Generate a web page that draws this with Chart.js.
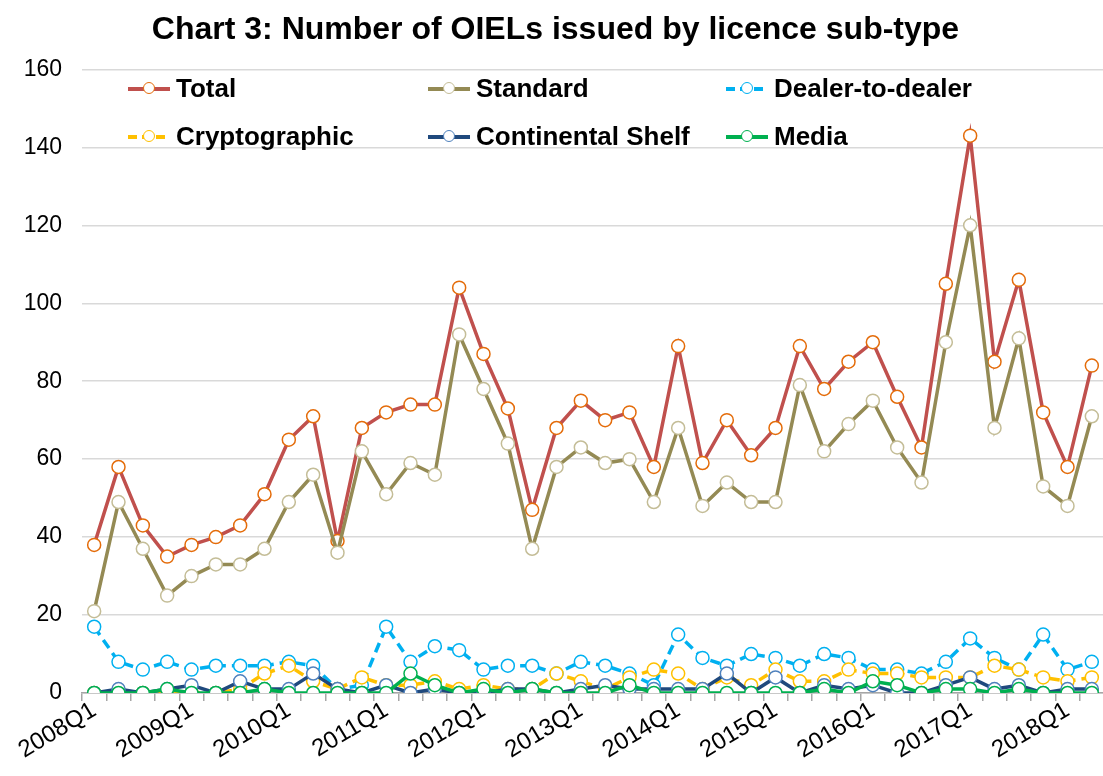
<!DOCTYPE html>
<html>
<head>
<meta charset="utf-8">
<script src="https://cdn.jsdelivr.net/npm/chart.js@4.4.0/dist/chart.umd.min.js"></script>
<style>
body { margin: 0; overflow: hidden; background: #fff; font-family: "Liberation Sans", Arial, sans-serif; }
#wrap { position: relative; width: 1112px; height: 776px; }
.leg { position: absolute; display: flex; align-items: center; font-weight: bold; font-size: 26px; color: #000; white-space: nowrap; }
.leg .sample { position: relative; width: 42px; height: 14px; margin-right: 6px; }
.leg .ln { position: absolute; left: 0; right: 0; top: 5.5px; height: 3.5px; }
.leg .dot { position: absolute; left: 15px; top: 0px; width: 10px; height: 10px; border: 1.5px solid; border-radius: 50%; background: #fff; }
</style>
</head>
<body>
<div id="wrap">
  <canvas id="chart"></canvas>
</div>
<script>
// Données (nombre de licences OIEL par trimestre)
var quarters = [
    '2008Q1', '2008Q2', '2008Q3', '2008Q4', '2009Q1', '2009Q2', '2009Q3', '2009Q4',
    '2010Q1', '2010Q2', '2010Q3', '2010Q4', '2011Q1', '2011Q2', '2011Q3', '2011Q4',
    '2012Q1', '2012Q2', '2012Q3', '2012Q4', '2013Q1', '2013Q2', '2013Q3', '2013Q4',
    '2014Q1', '2014Q2', '2014Q3', '2014Q4', '2015Q1', '2015Q2', '2015Q3', '2015Q4',
    '2016Q1', '2016Q2', '2016Q3', '2016Q4', '2017Q1', '2017Q2', '2017Q3', '2017Q4',
    '2018Q1', '2018Q2'
];
var total = [38, 58, 43, 35, 38, 40, 43, 51, 65, 71, 39, 68, 72, 74, 74, 104, 87, 73, 47, 68, 75,
    70, 72, 58, 89, 59, 70, 61, 68, 89, 78, 85, 90, 76, 63, 105, 143, 85, 106, 72, 58, 84];
var standard = [21, 49, 37, 25, 30, 33, 33, 37, 49, 56, 36, 62, 51, 59, 56, 92, 78, 64, 37, 58, 63,
    59, 60, 49, 68, 48, 54, 49, 49, 79, 62, 69, 75, 63, 54, 90, 120, 68, 91, 53, 48, 71];
var dealerToDealer = [17, 8, 6, 8, 6, 7, 7, 7, 8, 7, 1, 2, 17, 8, 12, 11, 6, 7, 7, 5, 8,
    7, 5, 2, 15, 9, 7, 10, 9, 7, 10, 9, 6, 6, 5, 8, 14, 9, 6, 15, 6, 8];
var cryptographic = [0, 0, 0, 0, 0, 0, 1, 5, 7, 3, 1, 4, 2, 2, 3, 1, 2, 1, 1, 5, 3,
    1, 4, 6, 5, 1, 4, 2, 6, 3, 3, 6, 5, 5, 4, 4, 4, 7, 6, 4, 3, 4];
var continentalShelf = [0, 1, 0, 1, 2, 0, 3, 1, 1, 5, 1, 0, 2, 0, 1, 0, 0, 1, 1, 0, 1,
    2, 1, 1, 1, 1, 5, 0, 4, 0, 2, 1, 2, 0, 0, 2, 4, 1, 2, 0, 1, 1];
var media = [0, 0, 0, 1, 0, 0, 0, 1, 0, 0, 0, 0, 0, 5, 2, 0, 1, 0, 1, 0, 0,
    0, 2, 0, 0, 0, 0, 0, 0, 0, 1, 0, 3, 2, 0, 1, 1, 0, 1, 0, 0, 0];

var yTicks = [0, 20, 40, 60, 80, 100, 120, 140, 160];

// Style de chaque série : nom, couleur de ligne, couleur du marqueur, tirets
var series = [
    { name: 'Total', data: total, line: '#C0504D', marker: '#E46C0A', dash: [] },
    { name: 'Standard', data: standard, line: '#948A54', marker: '#C4BD97', dash: [] },
    { name: 'Dealer-to-dealer', data: dealerToDealer, line: '#00B0F0', marker: '#00B0F0', dash: [10, 6] },
    { name: 'Cryptographic', data: cryptographic, line: '#FFC000', marker: '#FFC000', dash: [10, 6] },
    { name: 'Continental Shelf', data: continentalShelf, line: '#1F497D', marker: '#4F81BD', dash: [] },
    { name: 'Media', data: media, line: '#00B050', marker: '#00B050', dash: [] }
];

// Position de la légende (deux lignes, trois colonnes)
var legendPos = [[128, 88], [428, 88], [726, 88], [128, 136], [428, 136], [726, 136]];

Chart.defaults.font.family = '"Liberation Sans", Arial, sans-serif';

var datasets = series.map(function (s, i) {
    return {
        label: s.name,
        data: s.data,
        borderColor: s.line,
        borderWidth: 3.5,
        borderDash: s.dash,
        pointRadius: 6.5,
        pointBorderWidth: 1.5,
        pointBorderColor: s.marker,
        pointBackgroundColor: '#ffffff',
        tension: 0,
        order: series.length - i
    };
});

var chart = new Chart(document.getElementById('chart').getContext('2d'), {
    type: 'line',
    data: { labels: quarters, datasets: datasets },
    options: {
        responsive: true,
        maintainAspectRatio: false,
        animation: false,
        layout: { padding: { left: 0, right: 1, top: 0, bottom: 0 } },
        plugins: {
            legend: { display: false },
            tooltip: { enabled: false },
            title: {
                display: true,
                text: 'Chart 3: Number of OIELs issued by licence sub-type',
                color: '#000',
                font: { size: 32, weight: 'bold' },
                padding: { top: 11, bottom: 20 }
            }
        },
        scales: {
            x: {
                offset: true,
                grid: { display: true, drawOnChartArea: false, drawTicks: true, tickLength: 8, offset: true, color: '#A6A6A6', lineWidth: 1.5 },
                border: { display: true, color: '#A6A6A6', width: 1.5 },
                ticks: {
                    autoSkip: false,
                    maxRotation: 31,
                    minRotation: 31,
                    padding: -5,
                    color: '#000',
                    font: { size: 24 },
                    callback: function (value, index) {
                        return index % 4 === 0 ? quarters[index] : '';
                    }
                },
                afterFit: function (scale) { scale.height = 83; }
            },
            y: {
                min: 0,
                max: 160,
                afterBuildTicks: function (scale) {
                    scale.ticks = yTicks.map(function (v) { return { value: v }; });
                },
                grid: { color: '#D9D9D9', lineWidth: 1.5, drawTicks: false },
                border: { display: false },
                ticks: { padding: 20, color: '#000', font: { size: 23 } },
                afterFit: function (scale) { scale.width = 82; }
            }
        }
    }
});

// Légende en HTML, posée par-dessus la zone du graphique
var wrap = document.getElementById('wrap');
series.forEach(function (s, i) {
    var item = document.createElement('div');
    item.className = 'leg';
    item.style.left = legendPos[i][0] + 'px';
    item.style.top = (legendPos[i][1] - 15) + 'px';

    var sample = document.createElement('span');
    sample.className = 'sample';
    var ln = document.createElement('span');
    ln.className = 'ln';
    if (s.dash.length) {
        ln.style.background = 'repeating-linear-gradient(90deg, ' + s.line + ' 0 9px, transparent 9px 14px)';
    } else {
        ln.style.background = s.line;
    }
    var dot = document.createElement('span');
    dot.className = 'dot';
    dot.style.borderColor = s.marker;
    sample.appendChild(ln);
    sample.appendChild(dot);

    var txt = document.createElement('span');
    txt.textContent = s.name;

    item.appendChild(sample);
    item.appendChild(txt);
    wrap.appendChild(item);
});
</script>
</body>
</html>
